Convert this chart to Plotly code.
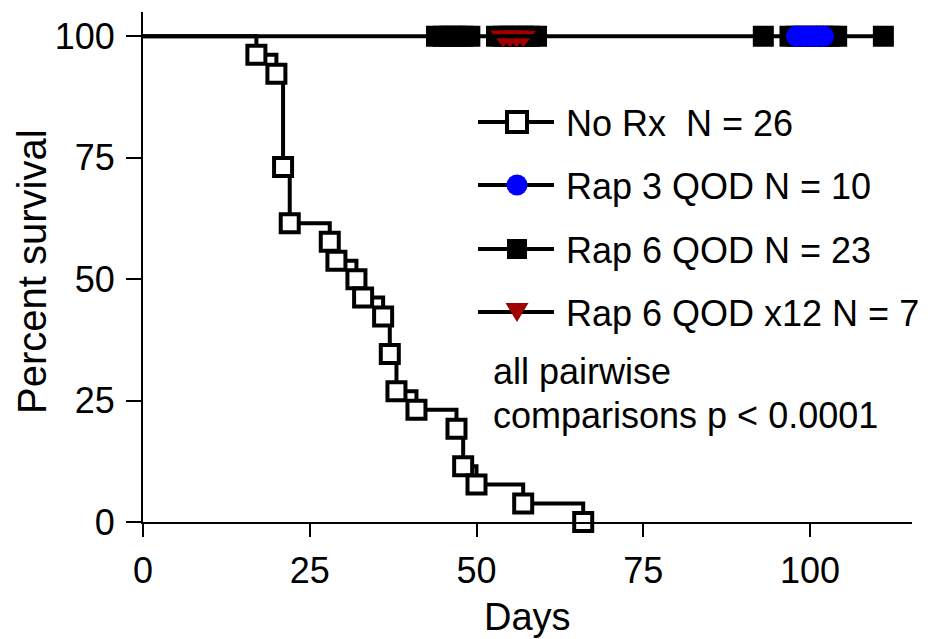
import plotly.graph_objects as go

# ---------------- data ----------------
norx_days = [0, 17, 20, 21, 22, 28, 29, 32, 33, 36, 37, 38, 41, 47, 48, 50, 57, 66]
norx_surv = [100, 96.2, 92.3, 73.1, 61.5, 57.7, 53.8, 50.0, 46.2, 42.3, 34.6, 26.9,
             23.1, 19.2, 11.5, 7.7, 3.8, 0]

rap3_days = [98, 98, 99, 99, 100, 100, 101, 101, 102, 102]
rap3_surv = [100] * len(rap3_days)

rap6_days = [44, 45, 46, 47, 48, 49, 53, 54, 55, 56, 57, 58, 59, 93,
             97, 98, 99, 100, 101, 102, 103, 104, 111]
rap6_surv = [100] * len(rap6_days)

rap6x12_days = [54, 54, 55, 55, 56, 56, 57]
rap6x12_surv = [100] * len(rap6x12_days)

legend_labels = ["No Rx\u00a0 N = 26", "Rap 3 QOD N = 10",
                 "Rap 6 QOD N = 23", "Rap 6 QOD x12 N = 7"]
note_lines = ["all pairwise", "comparisons p < 0.0001"]

x_ticks = [0, 25, 50, 75, 100]
y_ticks = [0, 25, 50, 75, 100]

# ---------------- styles ----------------
FONT = "Liberation Sans, Arial, Helvetica, sans-serif"
BLACK = "#000000"
BLUE = "#0000ff"
RED = "#a00000"

OFF = 8  # page body margin
W, H = 929 - OFF, 639 - OFF
ML, MR, MT = 143 - OFF, 17, 12 - OFF
MB = H - (522 - OFF)
PW, PH = W - ML - MR, H - MT - MB


def px(x):
    return (x - OFF - ML) / PW


def py(y):
    return (H - MB - (y - OFF)) / PH


fig = go.Figure()

# No Rx step curve
fig.add_trace(go.Scatter(x=norx_days, y=norx_surv, mode="lines",
                         line=dict(color=BLACK, width=4, shape="hv"),
                         showlegend=False, cliponaxis=False, hoverinfo="skip"))
fig.add_trace(go.Scatter(x=norx_days[1:], y=norx_surv[1:], mode="markers",
                         marker=dict(symbol="square", size=18, color="white",
                                     line=dict(color=BLACK, width=4)),
                         showlegend=False, cliponaxis=False))

# Rap 6 QOD (black squares)
fig.add_trace(go.Scatter(x=rap6_days, y=rap6_surv, mode="markers",
                         marker=dict(symbol="square", size=19, color=BLACK,
                                     line=dict(color=BLACK, width=2)),
                         showlegend=False, cliponaxis=False))
# Rap 6 QOD x12 (red triangles)
fig.add_trace(go.Scatter(x=rap6x12_days, y=rap6x12_surv, mode="markers",
                         marker=dict(symbol="triangle-down", size=22, color=RED,
                                     line=dict(width=0)),
                         showlegend=False, cliponaxis=False))
# treated groups line at 100%
top_x = [0, max(rap6_days)]
fig.add_trace(go.Scatter(x=top_x, y=[100, 100], mode="lines",
                         line=dict(color=BLACK, width=4),
                         showlegend=False, cliponaxis=False, hoverinfo="skip"))
# Rap 3 QOD (blue circles)
fig.add_trace(go.Scatter(x=rap3_days, y=rap3_surv, mode="markers",
                         marker=dict(symbol="circle", size=21, color=BLUE,
                                     line=dict(width=0)),
                         showlegend=False, cliponaxis=False))

# ---------------- manual legend ----------------
shapes = []
annotations = []
rows_y = [122, 185, 249, 312]
line_x0, line_x1, mark_x, text_x = 478, 554, 517, 564
for i, ry in enumerate(rows_y):
    shapes.append(dict(type="line", xref="paper", yref="paper",
                       x0=px(line_x0), x1=px(line_x1), y0=py(ry), y1=py(ry),
                       line=dict(color=BLACK, width=4)))
    annotations.append(dict(text=legend_labels[i], xref="paper", yref="paper",
                            x=px(text_x), y=py(ry + 1), xanchor="left", yanchor="middle",
                            showarrow=False, font=dict(family=FONT, size=36, color=BLACK)))

# No Rx open square
s = 10
shapes.append(dict(type="rect", xref="paper", yref="paper",
                   x0=px(mark_x - s), x1=px(mark_x + s), y0=py(rows_y[0] + s), y1=py(rows_y[0] - s),
                   fillcolor="white", line=dict(color=BLACK, width=4)))
# Rap 3 blue circle
r = 10.5
shapes.append(dict(type="circle", xref="paper", yref="paper",
                   x0=px(mark_x - r), x1=px(mark_x + r), y0=py(rows_y[1] + r), y1=py(rows_y[1] - r),
                   fillcolor=BLUE, line=dict(width=0)))
# Rap 6 filled square
s = 10
shapes.append(dict(type="rect", xref="paper", yref="paper",
                   x0=px(mark_x - s), x1=px(mark_x + s), y0=py(rows_y[2] + s), y1=py(rows_y[2] - s),
                   fillcolor=BLACK, line=dict(width=0)))
# Rap 6 x12 red triangle
ty = rows_y[3]
path = "M {:.5f},{:.5f} L {:.5f},{:.5f} L {:.5f},{:.5f} Z".format(
    px(mark_x - 11.5), py(ty - 9), px(mark_x + 11.5), py(ty - 9), px(mark_x), py(ty + 10))
shapes.append(dict(type="path", xref="paper", yref="paper", path=path,
                   fillcolor=RED, line=dict(width=0)))

# note text
for j, t in enumerate(note_lines):
    annotations.append(dict(text=t, xref="paper", yref="paper",
                            x=px(491), y=py(372 + 43 * j), xanchor="left", yanchor="middle",
                            showarrow=False, font=dict(family=FONT, size=36, color=BLACK)))

# axis titles
annotations.append(dict(text="Percent survival", xref="paper", yref="paper",
                        x=px(32), y=py(272), xanchor="center", yanchor="middle", textangle=-90,
                        showarrow=False, font=dict(family=FONT, size=40, color=BLACK)))
annotations.append(dict(text="Days", xref="paper", yref="paper",
                        x=px(527), y=py(617), xanchor="center", yanchor="middle",
                        showarrow=False, font=dict(family=FONT, size=38, color=BLACK)))

fig.update_layout(
    width=W, height=H,
    margin=dict(l=ML, r=MR, t=MT, b=MB, pad=0),
    paper_bgcolor="white", plot_bgcolor="white",
    showlegend=False,
    shapes=shapes, annotations=annotations,
    font=dict(family=FONT, color=BLACK),
)
fig.update_xaxes(range=[0, (912 - 143) / 6.67], tickmode="array", tickvals=x_ticks,
                 ticktext=[str(v) for v in x_ticks],
                 showgrid=False, zeroline=False, showline=True, linecolor=BLACK, linewidth=2,
                 ticks="outside", ticklen=13, tickwidth=2, tickcolor=BLACK,
                 ticklabelstandoff=3,
                 tickfont=dict(family=FONT, size=36, color=BLACK))
fig.update_yaxes(range=[0, 105], tickmode="array", tickvals=y_ticks,
                 ticktext=[str(v) for v in y_ticks],
                 showgrid=False, zeroline=False, showline=True, linecolor=BLACK, linewidth=2,
                 ticks="outside", ticklen=15, tickwidth=2, tickcolor=BLACK,
                 ticklabelstandoff=4,
                 tickfont=dict(family=FONT, size=36, color=BLACK))

fig.write_html("out.html")
